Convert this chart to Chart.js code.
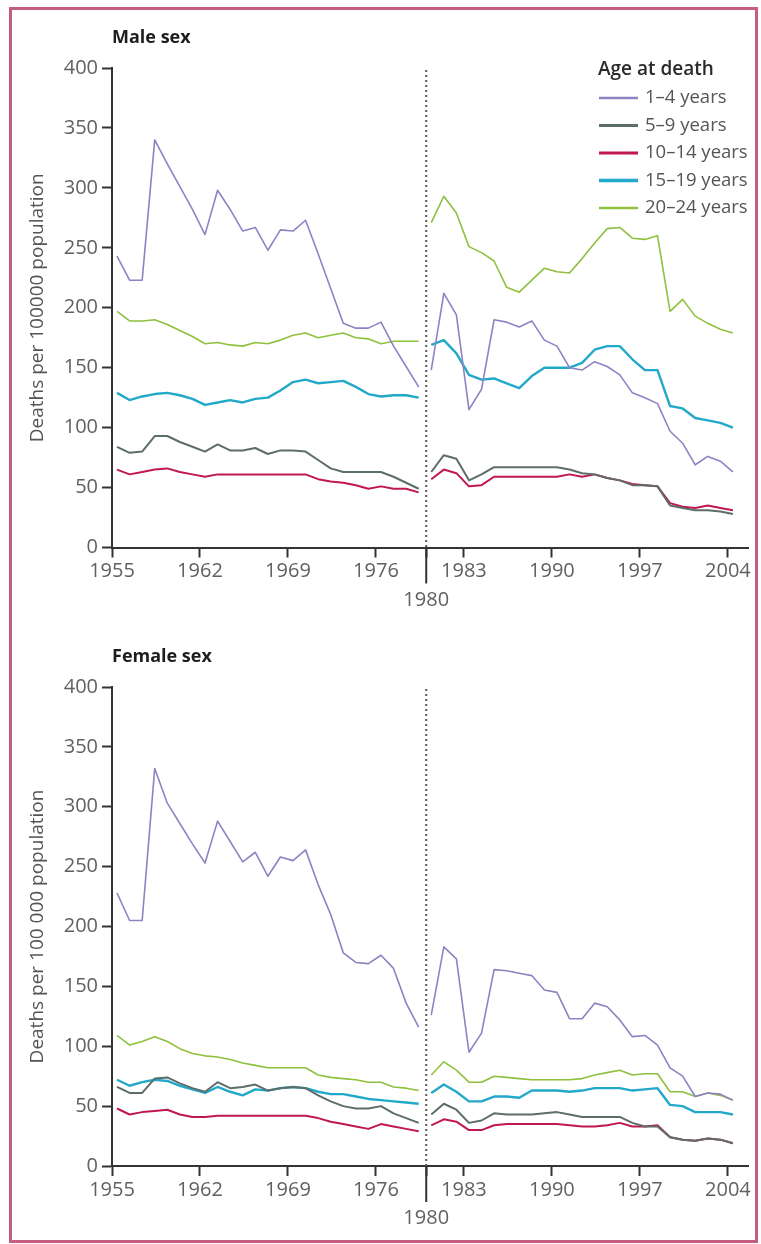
<!DOCTYPE html>
<html>
<head>
<meta charset="utf-8">
<script src="https://cdn.jsdelivr.net/npm/chart.js@4"></script>
<style>
  html, body { margin: 0; padding: 0; background: #ffffff; }
  body { width: 761px; height: 1244px; position: relative; overflow: hidden; font-family: "Open Sans", sans-serif; }
  #frame { position: absolute; left: 9px; top: 7px; width: 743px; height: 1230px; border: 3px solid #c45c84; }
  .wrap { position: absolute; left: 0; width: 761px; }
  #w1 { top: 0; height: 620px; }
  #w2 { top: 620px; height: 624px; }
</style>
</head>
<body>
<div id="frame"></div>
<div class="wrap" id="w1"><canvas id="c1"></canvas></div>
<div class="wrap" id="w2"><canvas id="c2"></canvas></div>
<script>
// ---------- data ----------
const yearsLeft  = [1955,1956,1957,1958,1959,1960,1961,1962,1963,1964,1965,1966,1967,1968,1969,1970,1971,1972,1973,1974,1975,1976,1977,1978,1979];
const yearsRight = [1980,1981,1982,1983,1984,1985,1986,1987,1988,1989,1990,1991,1992,1993,1994,1995,1996,1997,1998,1999,2000,2001,2002,2003,2004];
const breakYear = 1980;
const xTickYears = [1955,1962,1969,1976,1983,1990,1997,2004];
const yTickValues = [0,50,100,150,200,250,300,350,400];
const ageGroups = ['1–4 years','5–9 years','10–14 years','15–19 years','20–24 years'];
const ageColors = ['#8f82c3','#5d6d6b','#c0184f','#22a9c9','#8fc03e'];
const ageWidths = [1.6, 2, 2, 2.4, 1.6];

// Male sex
const male_1_4_left    = [243,223,223,340,320,301,282,261,298,282,264,267,248,265,264,273,245,216,187,183,183,188,168,151,134];
const male_1_4_right   = [148,212,194,115,132,190,188,184,189,173,168,150,148,155,151,144,129,125,120,97,87,69,76,72,63];
const male_5_9_left    = [84,79,80,93,93,88,84,80,86,81,81,83,78,81,81,80,73,66,63,63,63,63,59,54,49];
const male_5_9_right   = [63,77,74,56,61,67,67,67,67,67,67,65,62,61,58,56,52,52,51,35,33,31,31,30,28];
const male_10_14_left  = [65,61,63,65,66,63,61,59,61,61,61,61,61,61,61,61,57,55,54,52,49,51,49,49,46];
const male_10_14_right = [57,65,62,51,52,59,59,59,59,59,59,61,59,61,58,56,53,52,51,37,34,33,35,33,31];
const male_15_19_left  = [129,123,126,128,129,127,124,119,121,123,121,124,125,131,138,140,137,138,139,134,128,126,127,127,125];
const male_15_19_right = [169,173,162,144,140,141,137,133,143,150,150,150,154,165,168,168,157,148,148,118,116,108,106,104,100];
const male_20_24_left  = [197,189,189,190,186,181,176,170,171,169,168,171,170,173,177,179,175,177,179,175,174,170,172,172,172];
const male_20_24_right = [271,293,279,251,246,239,217,213,223,233,230,229,241,254,266,267,258,257,260,197,207,193,187,182,179];

// Female sex
const female_1_4_left    = [228,205,205,332,303,286,269,253,288,271,254,262,242,258,255,264,235,210,178,170,169,176,165,136,116];
const female_1_4_right   = [126,183,173,95,111,164,163,161,159,147,145,123,123,136,133,122,108,109,101,82,75,58,61,60,55];
const female_5_9_left    = [66,61,61,73,74,69,65,62,70,65,66,68,63,65,66,65,59,54,50,48,48,50,44,40,36];
const female_5_9_right   = [43,52,47,36,38,44,43,43,43,44,45,43,41,41,41,41,36,33,33,24,22,21,23,22,19];
const female_10_14_left  = [48,43,45,46,47,43,41,41,42,42,42,42,42,42,42,42,40,37,35,33,31,35,33,31,29];
const female_10_14_right = [34,39,37,30,30,34,35,35,35,35,35,34,33,33,34,36,33,33,34,24,22,21,23,22,19];
const female_15_19_left  = [72,67,70,72,71,67,64,61,66,62,59,64,63,65,66,65,62,60,60,58,56,55,54,53,52];
const female_15_19_right = [61,68,62,54,54,58,58,57,63,63,63,62,63,65,65,65,63,64,65,51,50,45,45,45,43];
const female_20_24_left  = [109,101,104,108,104,98,94,92,91,89,86,84,82,82,82,82,76,74,73,72,70,70,66,65,63];
const female_20_24_right = [76,87,80,70,70,75,74,73,72,72,72,72,73,76,78,80,76,77,77,62,62,58,61,59,55];

// ---------- build ----------
const xOffset = 0.4; // values plotted slightly after the year tick, as in the original
const FONT = '"Open Sans", "DejaVu Sans", sans-serif';
Chart.defaults.font.family = FONT;

function points(left, right) {
  const pts = yearsLeft.map((yr, i) => ({ x: yr + xOffset, y: left[i] }));
  pts.push({ x: breakYear, y: null });
  yearsRight.forEach((yr, i) => pts.push({ x: yr + xOffset, y: right[i] }));
  return pts;
}

function datasets(pairs) {
  return pairs.map((p, k) => ({
    label: ageGroups[k],
    data: points(p[0], p[1]),
    borderColor: ageColors[k],
    backgroundColor: ageColors[k],
    borderWidth: ageWidths[k],
    pointRadius: 0,
    tension: 0,
    spanGaps: false,
    borderJoinStyle: 'round',
    fill: false
  }));
}

const decor = {
  id: 'decor',
  afterDraw(chart, args, opts) {
    const { ctx, chartArea, scales } = chart;
    const x = scales.x;
    const bx = x.getPixelForValue(breakYear);
    ctx.save();
    // dotted break line
    ctx.strokeStyle = '#5a5a5a';
    ctx.lineWidth = 2;
    ctx.setLineDash([2, 3]);
    ctx.beginPath();
    ctx.moveTo(bx, chartArea.top + 2);
    ctx.lineTo(bx, chartArea.bottom);
    ctx.stroke();
    ctx.setLineDash([]);
    // long tick at the break year
    ctx.strokeStyle = '#333';
    ctx.beginPath();
    ctx.moveTo(bx, chartArea.bottom);
    ctx.lineTo(bx, chartArea.bottom + 36);
    ctx.stroke();
    // panel title
    ctx.fillStyle = '#1e1e1e';
    ctx.font = 'bold 18px ' + FONT;
    ctx.textAlign = 'left';
    ctx.textBaseline = 'middle';
    ctx.fillText(opts.title, chartArea.left, chartArea.top - 30);
    // legend
    if (opts.legend) {
      const lx = chartArea.right - 150;
      ctx.font = '600 19px ' + FONT;
      ctx.fillStyle = '#2a2a2a';
      ctx.fillText('Age at death', lx, chartArea.top + 2);
      ctx.font = '18.5px ' + FONT;
      chart.data.datasets.forEach((ds, i) => {
        const cy = chartArea.top + 30 + i * 27.5;
        ctx.strokeStyle = ds.borderColor;
        ctx.lineWidth = ds.borderWidth + 1;
        ctx.beginPath();
        ctx.moveTo(lx + 1, cy);
        ctx.lineTo(lx + 40, cy);
        ctx.stroke();
        ctx.fillStyle = '#555';
        ctx.fillText(ds.label, lx + 47, cy);
      });
    }
    ctx.restore();
  }
};

function makeChart(id, pairs, title, yTitle, xAxisHeight, padTop, legend) {
  return new Chart(document.getElementById(id), {
    type: 'line',
    data: { datasets: datasets(pairs) },
    plugins: [decor],
    options: {
      responsive: true,
      maintainAspectRatio: false,
      animation: false,
      events: [],
      layout: { padding: { left: 0, top: padTop, right: 13, bottom: 0 } },
      plugins: {
        legend: { display: false },
        tooltip: { enabled: false },
        title: { display: false },
        decor: { title: title, legend: legend }
      },
      scales: {
        x: {
          type: 'linear',
          min: 1955,
          max: 2005.6,
          afterBuildTicks(scale) {
            scale.ticks = xTickYears.concat([breakYear]).sort((a, b) => a - b).map(v => ({ value: v }));
          },
          afterFit(scale) {
            scale.height = xAxisHeight;
            scale.paddingLeft = 0; scale.paddingRight = 0;
            scale.paddingTop = 0; scale.paddingBottom = 0;
          },
          ticks: {
            autoSkip: false,
            maxRotation: 0,
            minRotation: 0,
            padding: 0,
            color: '#616161',
            font: { size: 20, lineHeight: 1.425 },
            callback: (v) => (v === breakYear ? ['', String(v)] : String(v))
          },
          grid: { drawOnChartArea: false, drawTicks: true, tickLength: 10, tickColor: '#333', tickWidth: 2 },
          border: { display: true, color: '#333', width: 2 }
        },
        y: {
          min: 0,
          max: 400,
          afterBuildTicks(scale) {
            scale.ticks = yTickValues.map(v => ({ value: v }));
          },
          afterFit(scale) {
            scale.width = 112;
            scale.paddingLeft = 0; scale.paddingRight = 0;
            scale.paddingTop = 0; scale.paddingBottom = 0;
          },
          ticks: { padding: 4, color: '#616161', font: { size: 20 } },
          grid: { drawOnChartArea: false, drawTicks: true, tickLength: 10, tickColor: '#333', tickWidth: 2 },
          border: { display: true, color: '#333', width: 2 },
          title: {
            display: true,
            text: yTitle,
            color: '#555',
            font: { size: 19, lineHeight: 1.2 },
            padding: { top: 26, bottom: 0 }
          }
        }
      }
    }
  });
}

makeChart('c1', [
  [male_1_4_left, male_1_4_right],
  [male_5_9_left, male_5_9_right],
  [male_10_14_left, male_10_14_right],
  [male_15_19_left, male_15_19_right],
  [male_20_24_left, male_20_24_right]
], 'Male sex', 'Deaths per 100000 population', 72.5, 68, true);

makeChart('c2', [
  [female_1_4_left, female_1_4_right],
  [female_5_9_left, female_5_9_right],
  [female_10_14_left, female_10_14_right],
  [female_15_19_left, female_15_19_right],
  [female_20_24_left, female_20_24_right]
], 'Female sex', 'Deaths per 100 000 population', 78, 67, false);
</script>
</body>
</html>
